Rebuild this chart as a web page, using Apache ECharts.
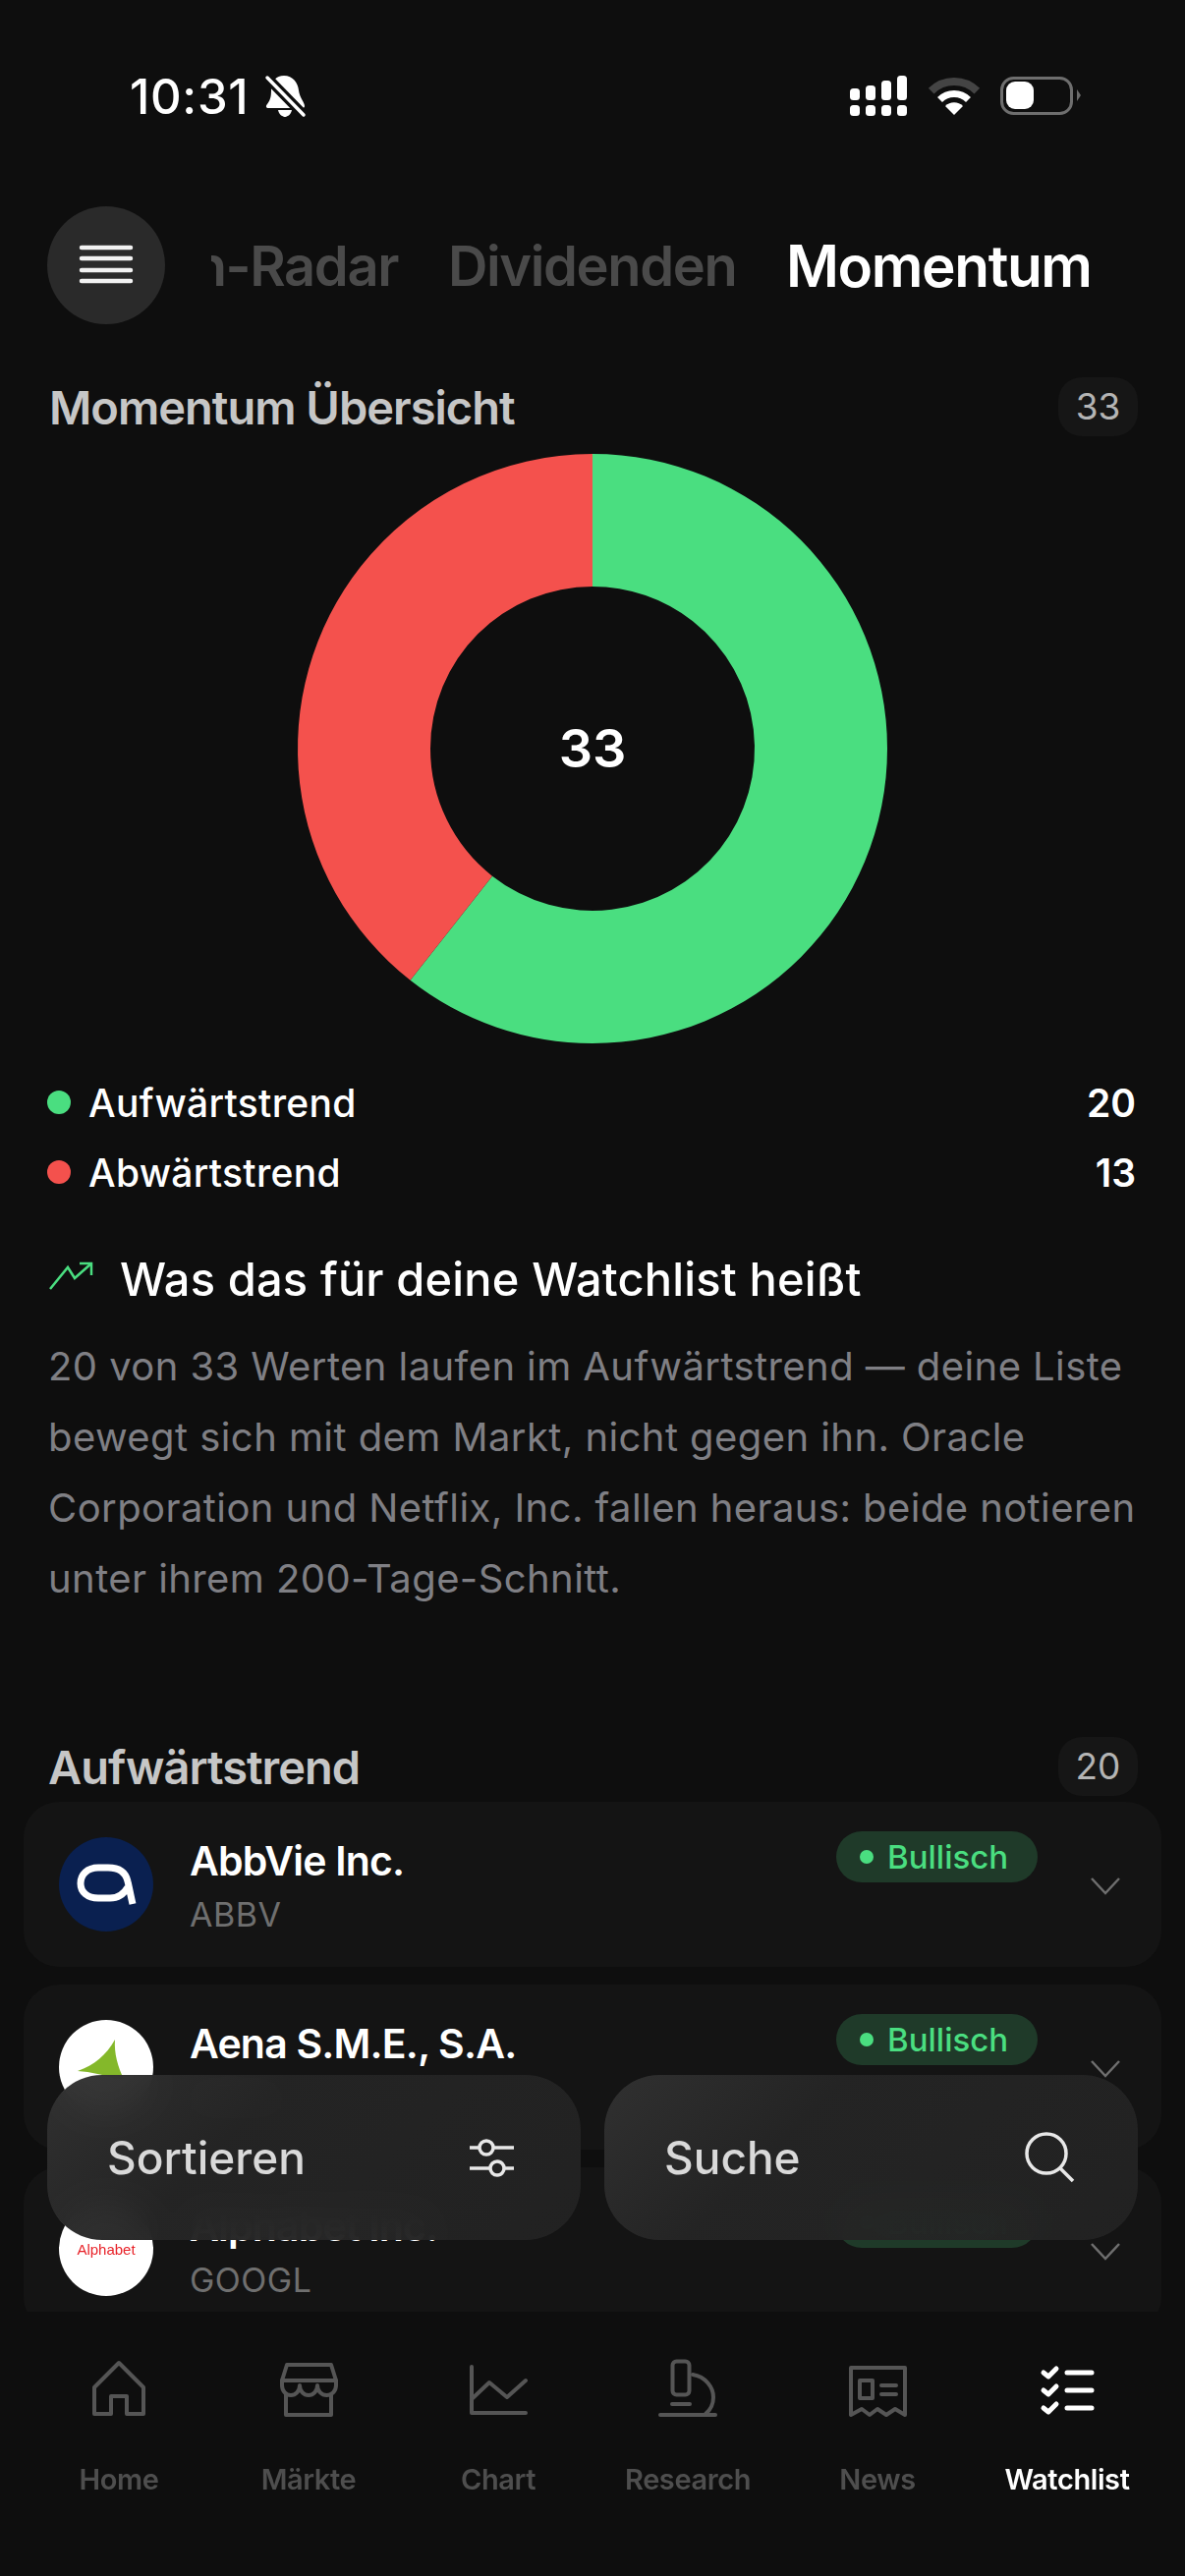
<!DOCTYPE html>
<html lang="de">
<head>
<meta charset="utf-8">
<title>Momentum</title>
<script src="https://cdn.jsdelivr.net/npm/echarts@6/dist/echarts.min.js"></script>
<style>
html,body{margin:0;padding:0;background:#0e0e0e;}
#page{position:relative;width:1206px;height:2622px;overflow:hidden;background:#0e0e0e;font-family:Inter,"Noto Sans",sans-serif;}
.t{position:absolute;white-space:nowrap;line-height:1;transform:translateY(-50%);}
.r{transform:translate(-100%,-50%);}
.c{transform:translate(-50%,-50%);}
.layer{position:absolute;left:0;top:0;}
.tab{font-size:56px;font-weight:600;letter-spacing:-1.4px;color:#4a4a4a;}
.h2{font-size:47px;font-weight:600;letter-spacing:-1px;color:#c6c6c6;}
.count{position:absolute;left:1077px;width:81px;height:60px;border-radius:24px;background:#161616;color:#b4b4b4;font-size:37px;line-height:60px;text-align:center;}
.legend{font-size:39px;font-weight:500;color:#fff;letter-spacing:.3px;}
.legendval{font-size:39px;font-weight:600;color:#fff;}
.dot{position:absolute;left:48px;width:24px;height:24px;border-radius:50%;}
.para{font-size:40px;color:#7f7f84;left:49px;letter-spacing:.42px;}
.card{position:absolute;left:24px;width:1158px;height:168px;border-radius:36px;background:#141414;}
.name{left:193px;font-size:41px;font-weight:600;letter-spacing:-.8px;color:#fff;}
.ticker{left:193px;font-size:34px;color:#6f6f6f;letter-spacing:.5px;}
.pill{position:absolute;left:851px;width:205px;height:52px;border-radius:26px;background:#1f3a29;}
.pilldot{position:absolute;left:24px;top:19px;width:14px;height:14px;border-radius:50%;background:#4ade80;}
.pilltxt{position:absolute;left:52px;top:0;font-size:33px;line-height:52px;font-weight:500;color:#4ade80;}
.btn{position:absolute;top:2112px;width:543px;height:168px;border-radius:56px;background:linear-gradient(135deg,rgba(50,50,50,.97),rgba(37,37,37,.97) 35%,rgba(35,35,35,.96));backdrop-filter:blur(16px);}
.btntxt{font-size:46px;font-weight:500;color:#d9d9d9;letter-spacing:0;}
#nav{position:absolute;left:0;top:2353px;width:1206px;height:269px;background:#0e0e0e;}
.navlbl{top:2523px;font-size:29px;font-weight:600;color:#4e4e4e;letter-spacing:-.4px;}
#chart{position:absolute;left:0;top:440px;width:1206px;height:650px;}
</style>
</head>
<body>
<div id="page">
  <!-- status bar -->
  <div class="t" style="left:132px;top:98px;font-size:49px;font-weight:500;color:#fff;letter-spacing:.7px;">10:31</div>
  <svg class="layer" width="1206" height="200">
    <g fill="#fff">
      <path d="M289 77C298 77 303 84 304 92C305 100 310 104 310 108C310 110 308 110 306 110H273C271 110 270 108 272 106C276 101 276 96 276 90C276 83 281 77 289 77z"/>
      <path d="M283 112H297C296 117 292 119 290 119C288 119 284 117 283 112z"/>
    </g>
    <path d="M272 79L309 117" stroke="#0e0e0e" stroke-width="10"/>
    <path d="M272 79L309 117" stroke="#fff" stroke-width="3.5" stroke-linecap="round"/>
    <g fill="#fff">
      <rect x="865" y="90" width="10" height="12" rx="3.5"/><rect x="865" y="107" width="10" height="11" rx="3.5"/>
      <rect x="881" y="87" width="10" height="15" rx="3.5"/><rect x="881" y="107" width="10" height="11" rx="3.5"/>
      <rect x="897" y="82" width="10" height="20" rx="3.5"/><rect x="897" y="107" width="10" height="11" rx="3.5"/>
      <rect x="913" y="77" width="10" height="25" rx="3.5"/><rect x="913" y="107" width="10" height="11" rx="3.5"/>
    </g>
    <path d="M947.7 92.7A33 33 0 0 1 994.3 92.7" fill="none" stroke="#444" stroke-width="8"/>
    <path d="M956.5 101.5A20.5 20.5 0 0 1 985.5 101.5" fill="none" stroke="#fff" stroke-width="7"/>
    <path d="M971 117L962 108A12.7 12.7 0 0 1 980 108z" fill="#fff"/>
    <rect x="1019.5" y="79.5" width="71" height="36" rx="12" fill="none" stroke="#6e6e6e" stroke-width="3"/>
    <rect x="1024" y="83" width="28" height="28" rx="9" fill="#fff"/>
    <path d="M1096 91L1100 97L1096 103z" fill="#6a6a6a"/>
  </svg>

  <!-- header -->
  <div style="position:absolute;left:48px;top:210px;width:120px;height:120px;border-radius:50%;background:#2a2a2a;"></div>
  <svg class="layer" width="1206" height="340">
    <g stroke="#f2f2f2" stroke-width="4.5" stroke-linecap="round">
      <path d="M83 252H133M83 263H133M83 275H133M83 286H133"/>
    </g>
  </svg>
  <div style="position:absolute;left:215px;top:230px;width:200px;height:80px;overflow:hidden;">
    <div class="t tab r" style="left:190px;top:41px;">Chancen-Radar</div>
  </div>
  <div class="t tab" style="left:456px;top:271px;">Dividenden</div>
  <div class="t tab" style="left:800px;top:271px;color:#fff;font-size:58.5px;">Momentum</div>

  <div class="t h2" style="left:50px;top:414px;">Momentum Übersicht</div>
  <div class="count" style="top:384px;" id="countAll"></div>

  <div id="chart"></div>

  <div id="legendBox"></div>

  <svg class="layer" width="1206" height="1340">
    <g fill="none" stroke="#4ade80" stroke-width="2.5">
      <path d="M51 1312L69 1290L76 1301L93 1286"/>
      <path d="M81 1286H93V1298"/>
    </g>
  </svg>
  <div class="t" style="left:122px;top:1301px;font-size:47px;font-weight:500;color:#fff;letter-spacing:.15px;">Was das für deine Watchlist heißt</div>

  <div class="t para" style="top:1391px;">20 von 33 Werten laufen im Aufwärtstrend — deine Liste</div>
  <div class="t para" style="top:1463px;">bewegt sich mit dem Markt, nicht gegen ihn. Oracle</div>
  <div class="t para" style="top:1535px;">Corporation und Netflix, Inc. fallen heraus: beide notieren</div>
  <div class="t para" style="top:1607px;">unter ihrem 200-Tage-Schnitt.</div>

  <div class="t h2" style="left:49px;top:1798px;" id="upTitle"></div>
  <div class="count" style="top:1768px;" id="countUp"></div>

  <div id="cards"></div>

  <!-- logos, all in page coordinates -->
  <svg class="layer" width="1206" height="2622" style="pointer-events:none;">
    <circle cx="108" cy="1918" r="48" fill="#0a2050"/>
    <path d="M135 1938C132 1925 131 1919 130 1915C128 1906 121 1901 110 1901H100C89 1901 82 1908 82 1917C82 1926 89 1932 100 1932H112C120 1932 126 1928 130 1921" fill="none" stroke="#fff" stroke-width="7"/>
    <circle cx="108" cy="2104" r="48" fill="#fff"/>
    <path d="M117 2076C108 2092 96 2102 79 2108C92 2109 108 2112 116 2116H126C120 2104 116 2090 117 2076z" fill="#84b82a"/>
    <circle cx="108" cy="2289" r="48" fill="#fff"/>
    <text x="108" y="2295" text-anchor="middle" font-family="Liberation Sans,sans-serif" font-size="15" fill="#e8232a">Alphabet</text>
    <g fill="none" stroke="#6e6e6e" stroke-width="2.5">
      <path d="M1111 1912L1125 1927L1139 1912"/>
      <path d="M1111 2098L1125 2113L1139 2098"/>
      <path d="M1111 2284L1125 2299L1139 2284"/>
    </g>
  </svg>

  <div class="btn" style="left:48px;"></div>
  <div class="btn" style="left:615px;"></div>
  <div class="t btntxt" style="left:109px;top:2196px;">Sortieren</div>
  <div class="t btntxt" style="left:676px;top:2196px;">Suche</div>
  <svg class="layer" width="1206" height="2622">
    <g fill="none" stroke="#e8e8e8" stroke-width="3.5">
      <path d="M478 2186H488M502 2186H523M478 2207H499M513 2207H523"/>
      <circle cx="495" cy="2186" r="7"/>
      <circle cx="506" cy="2207" r="7"/>
      <circle cx="1065" cy="2192" r="20"/>
      <path d="M1079 2207L1092 2220"/>
    </g>
  </svg>

  <div id="nav"></div>
  <svg class="layer" width="1206" height="2622">
    <g fill="none" stroke="#555" stroke-width="4" stroke-linejoin="round" stroke-linecap="round">
      <!-- home -->
      <path d="M96 2457V2430L121 2405L146 2430V2457H129V2439H113V2457z"/>
      <!-- maerkte -->
      <path d="M292 2407H337L342 2423H287z"/>
      <path d="M287 2423V2428A9 10 0 0 0 305 2428A9 10 0 0 0 323 2428A9.5 10 0 0 0 342 2428V2423"/>
      <path d="M291 2437V2458H337V2437"/>
      <!-- chart -->
      <path d="M480 2409V2456H535"/>
      <path d="M480 2442L498 2425L516 2440L535 2423"/>
      <!-- research -->
      <rect x="684.5" y="2403.5" width="17" height="34" rx="4"/>
      <path d="M705 2417C718 2419 726 2430 726 2440C726 2447 723 2453 718 2457"/>
      <path d="M672 2458H728M684 2447H702"/>
      <!-- news -->
      <path d="M866 2458V2410H921V2458L911 2452L902 2458L893 2452L885 2458L877 2452z"/>
      <rect x="875" y="2423" width="13" height="18"/>
      <path d="M897 2428H912M897 2437H912"/>
    </g>
    <g fill="none" stroke="#fff" stroke-width="5" stroke-linecap="round" stroke-linejoin="round">
      <path d="M1062 2415L1067 2419L1075 2411M1062 2433L1067 2437L1075 2429M1062 2451L1067 2455L1075 2447"/>
      <path d="M1086 2415H1111M1086 2433H1111M1086 2451H1111"/>
    </g>
  </svg>
  <div id="navLabels"></div>
</div>

<script>
var trendNames = ['Aufwärtstrend', 'Abwärtstrend'];
var trendValues = [20, 13];
var trendColors = ['#4ade80', '#f4514d'];

var cardNames = ['AbbVie Inc.', 'Aena S.M.E., S.A.', 'Alphabet Inc.'];
var cardTickers = ['ABBV', 'AENA', 'GOOGL'];
var cardStatus = ['Bullisch', 'Bullisch', 'Bullisch'];

var navItems = ['Home', 'Märkte', 'Chart', 'Research', 'News', 'Watchlist'];

var total = trendValues[0] + trendValues[1];

document.getElementById('countAll').textContent = total;
document.getElementById('countUp').textContent = trendValues[0];
document.getElementById('upTitle').textContent = trendNames[0];

// legend rows
var legendHtml = '';
trendNames.forEach(function (n, i) {
    var y = 1122 + i * 71;
    legendHtml += '<div class="dot" style="top:' + (y - 12) + 'px;background:' + trendColors[i] + ';"></div>';
    legendHtml += '<div class="t legend" style="left:90px;top:' + y + 'px;">' + n + '</div>';
    legendHtml += '<div class="t r legendval" style="left:1156px;top:' + y + 'px;">' + trendValues[i] + '</div>';
});
document.getElementById('legendBox').innerHTML = legendHtml;

// list cards
var cardHtml = '';
cardNames.forEach(function (n, i) {
    var top = 1834 + i * 186;
    cardHtml += '<div class="card" style="top:' + top + 'px;"></div>';
    cardHtml += '<div class="t name" style="top:' + (top + 60) + 'px;">' + n + '</div>';
    cardHtml += '<div class="t ticker" style="top:' + (top + 115) + 'px;">' + cardTickers[i] + '</div>';
    cardHtml += '<div class="pill" style="top:' + (top + 30) + 'px;"><div class="pilldot"></div><div class="pilltxt">' + cardStatus[i] + '</div></div>';
});
document.getElementById('cards').innerHTML = cardHtml;

// bottom navigation
var navHtml = '';
navItems.forEach(function (n, i) {
    var x = 121 + i * 193;
    var col = i == navItems.length - 1 ? 'color:#fff;' : '';
    navHtml += '<div class="t c navlbl" style="left:' + x + 'px;' + col + '">' + n + '</div>';
});
document.getElementById('navLabels').innerHTML = navHtml;

var myChart = echarts.init(document.getElementById('chart'));
var option = {
    animation: false,
    backgroundColor: 'transparent',
    title: {
        text: String(total),
        left: 'center',
        top: 'middle',
        textStyle: {
            color: '#fff',
            fontFamily: 'Inter',
            fontSize: 54,
            fontWeight: 600
        }
    },
    series: [
        {
            type: 'pie',
            center: [603, 322],
            radius: [165, 300],
            startAngle: 90,
            clockwise: true,
            silent: true,
            label: { show: false },
            labelLine: { show: false },
            itemStyle: { borderWidth: 0 },
            data: trendNames.map(function (n, i) {
                return { name: n, value: trendValues[i], itemStyle: { color: trendColors[i] } };
            })
        }
    ]
};
myChart.setOption(option);
</script>
</body>
</html>
